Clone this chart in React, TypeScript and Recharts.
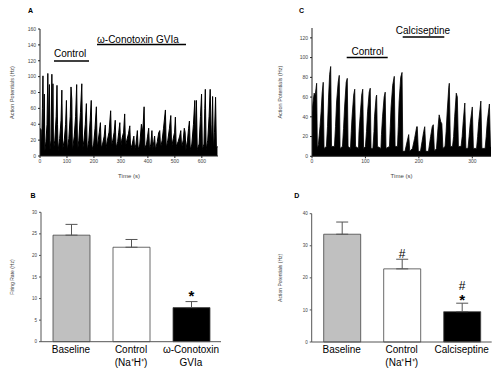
import React from 'react';
import { AreaChart, Area, XAxis, YAxis, BarChart, Bar, Cell, ErrorBar, LabelList } from 'recharts';

const FONT = '"Liberation Sans", Arial, Helvetica, sans-serif';

// ---- Panel A trace: firing rate (Hz) over time (s)
const traceATime = [
  0, 4, 6, 9, 11, 13, 16, 18, 22, 26, 29, 32, 35, 37, 41, 44, 46, 48, 50, 55, 60, 63, 65, 67,
  73, 78, 81, 84, 90, 95, 98, 101, 107, 112, 115, 118, 120, 127, 132, 136, 139, 144, 150, 155, 158,
  163, 168, 172, 175, 181, 186, 190, 193, 199, 204, 209, 212, 216, 220, 224, 227, 232, 238, 242, 245,
  250, 256, 262, 265, 270, 275, 279, 282, 288, 292, 296, 299, 304, 310, 314, 317, 322, 328, 333, 336,
  342, 348, 351, 356, 361, 364, 370, 376, 381, 386, 389, 395, 399, 403, 406, 411, 415, 418, 422, 425,
  428, 435, 440, 444, 447, 453, 458, 465, 468, 474, 480, 485, 488, 494, 499, 502, 505, 512, 518, 522,
  525, 531, 535, 538, 541, 547, 551, 554, 557, 563, 569, 574, 577, 580, 583, 590, 595, 599, 602, 608,
  611, 613, 616, 622, 627, 631, 634, 637, 640, 643, 647, 651, 654, 658,
];
const traceARate = [
  35, 33, 8, 60, 101, 20, 78, 6, 18, 40, 104, 30, 90, 8, 20, 103, 30, 91, 8, 20, 50, 89, 40, 6,
  22, 45, 83, 8, 20, 40, 70, 6, 22, 50, 87, 71, 6, 25, 50, 90, 6, 20, 55, 91, 8,
  20, 40, 66, 6, 20, 45, 70, 8, 15, 35, 62, 10, 20, 30, 42, 10, 15, 25, 39, 10,
  20, 30, 57, 12, 20, 30, 45, 10, 18, 30, 42, 10, 22, 30, 53, 12, 20, 28, 38, 8,
  15, 25, 8, 15, 32, 8, 15, 40, 30, 62, 10, 15, 25, 35, 8, 15, 32, 8, 18, 25,
  8, 18, 29, 32, 10, 20, 35, 58, 10, 20, 35, 51, 10, 22, 30, 49, 12, 18, 25, 32,
  10, 20, 35, 30, 8, 20, 35, 44, 8, 15, 40, 70, 20, 70, 8, 15, 50, 78, 8, 15,
  60, 84, 8, 20, 50, 84, 40, 10, 75, 8, 30, 74, 10, 12,
];

// ---- Panel C trace
const traceCTime = [
  0, 2, 4, 6, 8.7, 10, 12, 15, 17, 19, 21, 22.5, 27, 29, 31, 33, 35, 36.5, 42, 44, 46, 49, 51, 52.5,
  57, 59, 61, 64, 66, 67.5, 72, 73.5, 75, 78, 80, 81.5, 87, 88, 90, 93, 95, 96.5, 100, 102, 104, 107,
  109, 110.5, 114, 116, 117, 120, 121, 122.5, 129, 130, 132, 135, 137, 138.5, 145, 146.5, 148, 151,
  154, 155.5, 160, 161.5, 163, 166, 168.5, 170, 174, 178, 181, 183, 188, 192, 196, 197, 199, 203, 206,
  209, 211, 213, 218, 222, 225, 227, 229, 233, 236, 238, 241, 243, 245, 249, 251, 253, 256, 257, 259,
  263, 265, 267, 270, 272, 274, 279, 281, 283, 286, 288, 292, 294, 296, 300, 302, 308, 310, 312, 316,
  318, 324, 326, 328, 332, 334, 335,
];
const traceCRate = [
  45, 55, 64, 62, 74, 8, 12, 30, 45, 64, 75, 8, 10, 30, 60, 83, 91, 10, 10, 30, 55, 75, 82, 8,
  10, 28, 50, 75, 79, 10, 8, 25, 40, 62, 68, 10, 8, 25, 40, 62, 68, 8, 10, 25, 45, 65,
  69, 8, 8, 25, 40, 60, 62, 10, 8, 22, 40, 60, 65, 8, 10, 30, 50, 72,
  81, 10, 10, 30, 55, 80, 85, 5, 5, 15, 22, 5, 8, 18, 30, 30, 5, 5, 15,
  25, 30, 5, 5, 20, 30, 32, 5, 8, 30, 42, 35, 33, 8, 10, 25, 45, 70, 74, 10,
  10, 20, 40, 64, 60, 10, 10, 20, 35, 54, 8, 8, 20, 33, 50, 8, 8, 20, 35, 56,
  8, 8, 20, 35, 53, 10, 10,
];

const traceATicksX = [0, 100, 200, 300, 400, 500, 600];
const traceATicksY = [0, 20, 40, 60, 80, 100, 120, 140, 160];
const traceCTicksX = [0, 100, 200, 300];
const traceCTicksY = [0, 20, 40, 60, 80, 100, 120];

// ---- Panel B bars
const categoriesB = [['Baseline'], ['Control', '(Na\u207AH\u207A)'], ['\u03C9-Conotoxin', 'GVIa']];
const firingRateB = [24.7, 21.9, 7.9];
const semB = [2.5, 1.8, 1.4];
const sigB = [[], [], ['*']];
const ticksB = [0, 5, 10, 15, 20, 25, 30];

// ---- Panel D bars
const categoriesD = [['Baseline'], ['Control', '(Na\u207AH\u207A)'], ['Calciseptine']];
const actionPotD = [33.6, 22.8, 9.45];
const semD = [3.8, 3.0, 2.65];
const sigD = [[], ['#'], ['*', '#']];
const ticksD = [0, 10, 20, 30, 40];

const barFills = ['#c0c0c0', '#ffffff', '#000000'];

const traceA = traceATime.map((t, i) => ({ t, v: traceARate[i] }));
const traceC = traceCTime.map((t, i) => ({ t, v: traceCRate[i] }));
const barsB = categoriesB.map((c, i) => ({ name: c.join(' '), value: firingRateB[i], err: [0, semB[i]] }));
const barsD = categoriesD.map((c, i) => ({ name: c.join(' '), value: actionPotD[i], err: [0, semD[i]] }));

const tickStyle = { fontSize: 5, fill: '#444', fontFamily: FONT };
const axisTitle = { fontSize: 5.5, fill: '#444', fontFamily: FONT };

function TraceChart(props: any) {
  const { data, width, height, margin, xDomain, xTicks, yDomain, yTicks, yWidth, xHeight, lineW } = props;
  return (
    <AreaChart width={width} height={height} data={data} margin={margin}>
      <XAxis
        dataKey="t"
        type="number"
        domain={xDomain}
        ticks={xTicks}
        interval={0}
        allowDataOverflow
        height={xHeight}
        stroke="#222"
        tick={tickStyle}
        tickSize={2}
        tickMargin={1}
        label={{ value: 'Time (s)', position: 'insideBottom', offset: 12, style: { ...axisTitle, fontSize: 6 } }}
      />
      <YAxis
        type="number"
        domain={yDomain}
        ticks={yTicks}
        interval={0}
        allowDataOverflow
        width={yWidth}
        stroke="#222"
        tick={tickStyle}
        tickSize={2}
        tickMargin={2}
        label={{ value: 'Action Potentials (Hz)', angle: -90, position: 'insideLeft', offset: 2, style: { ...axisTitle, textAnchor: 'middle' } }}
      />
      <Area type="linear" dataKey="v" stroke="#000" strokeWidth={lineW} fill="#000" fillOpacity={1} isAnimationActive={false} dot={false} activeDot={false} />
    </AreaChart>
  );
}

function makeCatTick(categories: string[][]) {
  return (props: any) => {
    const { x, y, payload } = props;
    const lines = categories[payload.index] || [];
    return (
      <g>
        {lines.map((ln, k) => (
          <text key={k} x={x} y={y + 11 + k * 13} textAnchor="middle" fontSize={10} fill="#000" fontFamily={FONT}>
            {ln}
          </text>
        ))}
      </g>
    );
  };
}

function makeSigLabel(sig: string[][]) {
  return (props: any) => {
    const { x, y, width, index } = props;
    const syms = sig[index] || [];
    const cx = x + width / 2;
    return (
      <g>
        {syms.map((s, k) => {
          const base = syms[0] === '*' ? 6.5 : 10.5;
          const by = y - base - k * 15.5;
          return (
            <text key={k} x={cx} y={by} textAnchor="middle" fontFamily={FONT}
              fontSize={s === '*' ? 15 : 12} fontWeight={s === '*' ? 'bold' : 'normal'} fill="#000">
              {s}
            </text>
          );
        })}
      </g>
    );
  };
}

function BarPanel(props: any) {
  const { data, categories, sig, ticks, yLabel, margin, yWidth, xHeight, domain } = props;
  return (
    <BarChart width={250} height={192} data={data} margin={margin} barSize={37}>
      <XAxis dataKey="name" interval={0} tickLine={false} tickSize={0} tickMargin={0} height={xHeight} stroke="#555" tick={makeCatTick(categories)} />
      <YAxis
        type="number"
        domain={domain}
        ticks={ticks}
        interval={0}
        width={yWidth}
        stroke="#555"
        tick={{ ...tickStyle, fontSize: 4.5 }}
        tickSize={2}
        tickMargin={2}
        label={{ value: yLabel, angle: -90, position: 'insideLeft', offset: 2, style: { ...axisTitle, fontSize: 5, textAnchor: 'middle' } }}
      />
      <Bar dataKey="value" stroke="#444" strokeWidth={0.8} isAnimationActive={false}>
        {data.map((d: any, i: number) => (
          <Cell key={i} fill={barFills[i]} />
        ))}
        <ErrorBar dataKey="err" width={6} stroke="#555" strokeWidth={1} direction="y" isAnimationActive={false} />
        <LabelList dataKey="value" content={makeSigLabel(sig)} />
      </Bar>
    </BarChart>
  );
}

export default function App() {
  return (
    <div style={{ position: 'absolute', left: 0, top: 0, width: 500, height: 372, background: '#fff', overflow: 'hidden' }}>
      <div style={{ position: 'absolute', left: 0, top: 0 }}>
        <TraceChart data={traceA} width={250} height={190} margin={{ top: 29, right: 32, left: 10, bottom: 0 }} lineW={1}
          xDomain={[0, 660]} xTicks={traceATicksX} yDomain={[0, 160]} yTicks={traceATicksY} yWidth={30} xHeight={34} />
      </div>
      <div style={{ position: 'absolute', left: 250, top: 0 }}>
        <TraceChart data={traceC} width={250} height={190} margin={{ top: 28, right: 9, left: 28, bottom: 0 }} lineW={0.8}
          xDomain={[0, 335]} xTicks={traceCTicksX} yDomain={[0, 130]} yTicks={traceCTicksY} yWidth={34} xHeight={33.7} />
      </div>
      <div style={{ position: 'absolute', left: 0, top: 180 }}>
        <BarPanel data={barsB} categories={categoriesB} sig={sigB} ticks={ticksB} domain={[0, 30]} yLabel="Firing Rate (Hz)"
          margin={{ top: 32.3, right: 29, left: 10, bottom: 0 }} yWidth={31} xHeight={30.3} />
      </div>
      <div style={{ position: 'absolute', left: 250, top: 180 }}>
        <BarPanel data={barsD} categories={categoriesD} sig={sigD} ticks={ticksD} domain={[0, 40]} yLabel="Action Potentials (Hz)"
          margin={{ top: 33.7, right: 8.3, left: 28, bottom: 0 }} yWidth={33.7} xHeight={30} />
      </div>
      <svg width={500} height={372} style={{ position: 'absolute', left: 0, top: 0, pointerEvents: 'none' }} fontFamily={FONT}>
        <text x={28} y={12.5} fontSize={7} fontWeight="bold">A</text>
        <text x={299} y={13.3} fontSize={7} fontWeight="bold">C</text>
        <text x={30.5} y={197.7} fontSize={7} fontWeight="bold">B</text>
        <text x={294.3} y={197.7} fontSize={7} fontWeight="bold">D</text>
        <text x={54} y={56.5} fontSize={10}>Control</text>
        <line x1={54} x2={89} y1={61} y2={61} stroke="#000" strokeWidth={1.5} />
        <text x={97} y={42.5} fontSize={10}>{'\u03C9-Conotoxin GVIa'}</text>
        <line x1={97} x2={186} y1={44.5} y2={44.5} stroke="#000" strokeWidth={1.5} />
        <text x={351.5} y={55} fontSize={10}>Control</text>
        <line x1={346.7} x2={387.7} y1={57.5} y2={57.5} stroke="#000" strokeWidth={1.5} />
        <text x={395.7} y={34} fontSize={10}>Calciseptine</text>
        <line x1={402.7} x2={444.3} y1={37} y2={37} stroke="#000" strokeWidth={1.5} />
      </svg>
    </div>
  );
}
